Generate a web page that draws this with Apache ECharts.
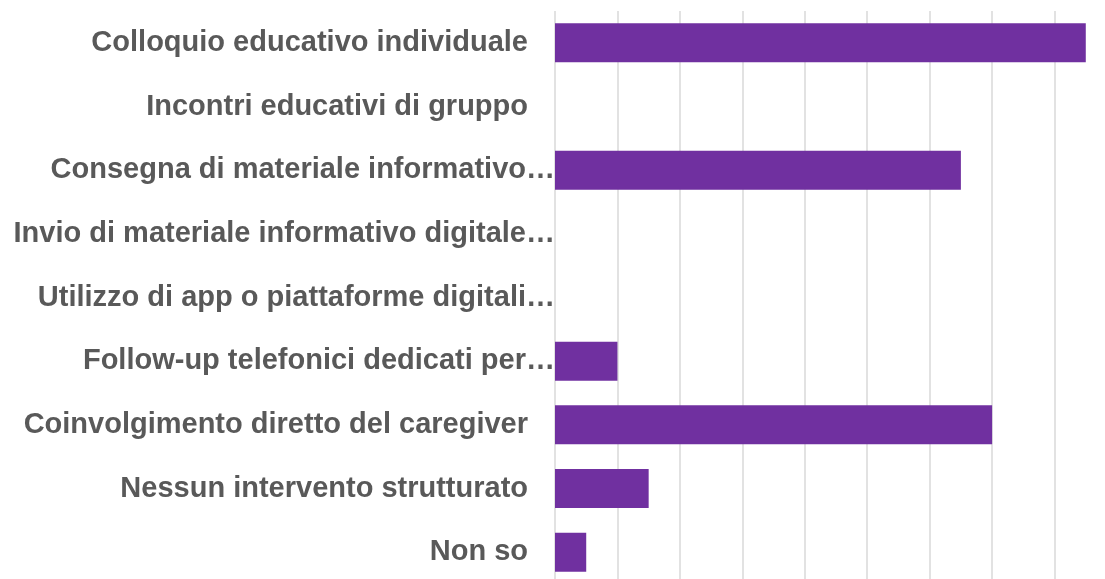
<!DOCTYPE html>
<html>
<head>
<meta charset="utf-8">
<script src="https://cdn.jsdelivr.net/npm/echarts@6/dist/echarts.min.js"></script>
<style>
  html, body { margin: 0; padding: 0; background: #fff; }
  #chart { width: 1105px; height: 579px; }
</style>
</head>
<body>
<div id="chart"></div>
<script>
// categories, top to bottom
const categories = [
  'Colloquio educativo individuale',
  'Incontri educativi di gruppo',
  'Consegna di materiale informativo…',
  'Invio di materiale informativo digitale…',
  'Utilizzo di app o piattaforme digitali…',
  'Follow-up telefonici dedicati per…',
  'Coinvolgimento diretto del caregiver',
  'Nessun intervento strutturato',
  'Non so'
];
const values = [17, 0, 13, 0, 0, 2, 14, 3, 1];

const chart = echarts.init(document.getElementById('chart'), null, { renderer: 'canvas' });

// plot runs a little past the right and bottom edges, like the original crop
chart.setOption({
  animation: false,
  grid: {
    left: 555, width: 562, top: 11, height: 573,
    containLabel: false,
    outerBoundsMode: 'none'
  },
  xAxis: {
    type: 'value',
    min: 0,
    max: 18,
    interval: 2,
    axisLabel: { show: false },
    axisLine: { show: false },
    axisTick: { show: false },
    splitLine: { lineStyle: { color: '#d9d9d9', width: 1.5 } }
  },
  yAxis: {
    type: 'category',
    inverse: true,
    data: categories,
    axisLine: { show: false },
    axisTick: { show: false },
    axisLabel: {
      margin: 0,
      formatter: function (v) {
        // truncated labels run right up to the axis
        return v.endsWith('…') ? '{t|' + v + '}' : '{t|' + v + '}{s|}';
      },
      rich: {
        t: {
          fontFamily: 'Liberation Sans, Arial, sans-serif',
          fontWeight: 'bold',
          fontSize: 29,
          color: '#595959'
        },
        s: { width: 27 }
      }
    }
  },
  series: [{
    type: 'bar',
    data: values,
    barWidth: 39,
    itemStyle: { color: '#7030a0' }
  }]
});
</script>
</body>
</html>
